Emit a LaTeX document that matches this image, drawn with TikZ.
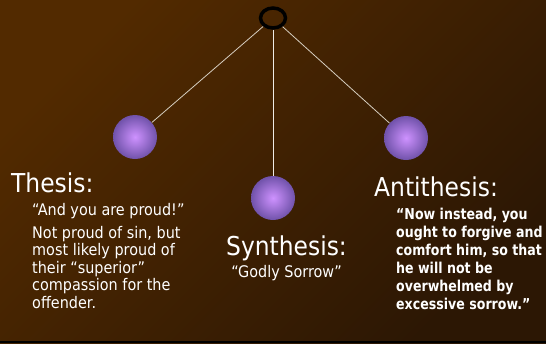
\documentclass[tikz,border=0pt]{standalone}
\usepackage{fontspec}
\setmainfont{DejaVu Sans}[FakeStretch=0.9, BoldFeatures={FakeStretch=0.84}]
\usetikzlibrary{shapes.geometric}
\definecolor{bgtop}{RGB}{82,42,0}
\definecolor{bgbottom}{RGB}{44,23,4}
\definecolor{threadcol}{RGB}{214,206,192}
\definecolor{ballin}{RGB}{206,146,255}
\definecolor{ballout}{RGB}{112,82,170}
\tikzset{
  ball/.style    = {circle, minimum size=44pt, inner sep=0pt,
                    inner color=ballin, outer color=ballout},
  hook/.style    = {ellipse, draw=black, line width=3.5pt,
                    minimum width=25pt, minimum height=20pt, inner sep=0pt},
  thread/.style  = {draw=threadcol, line width=0.8pt},
  title/.style   = {anchor=base west, inner sep=0pt, text=white,
                    font=\fontsize{26}{28}\selectfont},
  body/.style    = {anchor=base west, inner sep=0pt, text=white, align=left,
                    font=\fontsize{16}{17.5}\selectfont},
  boldbody/.style = {body, font=\fontsize{15}{18}\selectfont\bfseries}
}
\begin{document}
\begin{tikzpicture}[x=1pt,y=-1pt]
  % background
  \shade[top color=bgtop, bottom color=bgbottom, shading angle=45]
    (0,0) rectangle (546,343);
  \fill[black] (0,340.7) rectangle (546,343);

  % pendulum
  \node[hook] (ring) at (273,18) {};
  \node[ball] (thesisball) at (135,137) {};
  \node[ball] (synthball)  at (273,198) {};
  \node[ball] (antiball)   at (406,138) {};
  \draw[thread] (ring) -- (thesisball);
  \draw[thread] (ring) -- (antiball);
  \draw[thread, draw={rgb,255:red,238;green,234;blue,228}, line width=1pt]
    (ring) -- (synthball);

  % labels (multi-line nodes sit on their last line)
  \node[title] (thesis) at (11,192) {Thesis:};
  \node[body] (thesisbody) at (32,308)
    {“And you are proud!”\\[5.5pt]
     Not proud of sin, but\\ most likely proud of\\ their “superior”\\
     compassion for the\\ offender.};
  \node[title, anchor=base] (synth) at (286.5,255) {Synthesis:};
  \node[body, anchor=base] (synthbody) at (286.5,277) {“Godly Sorrow”};
  \node[title] (anti) at (374,196) {Antithesis:};
  \node[boldbody] (antibody) at (396,309)
    {“Now instead, you\\ ought to forgive and\\ comfort him, so that\\
     he will not be\\ overwhelmed by\\ excessive sorrow.”};
\end{tikzpicture}
\end{document}
